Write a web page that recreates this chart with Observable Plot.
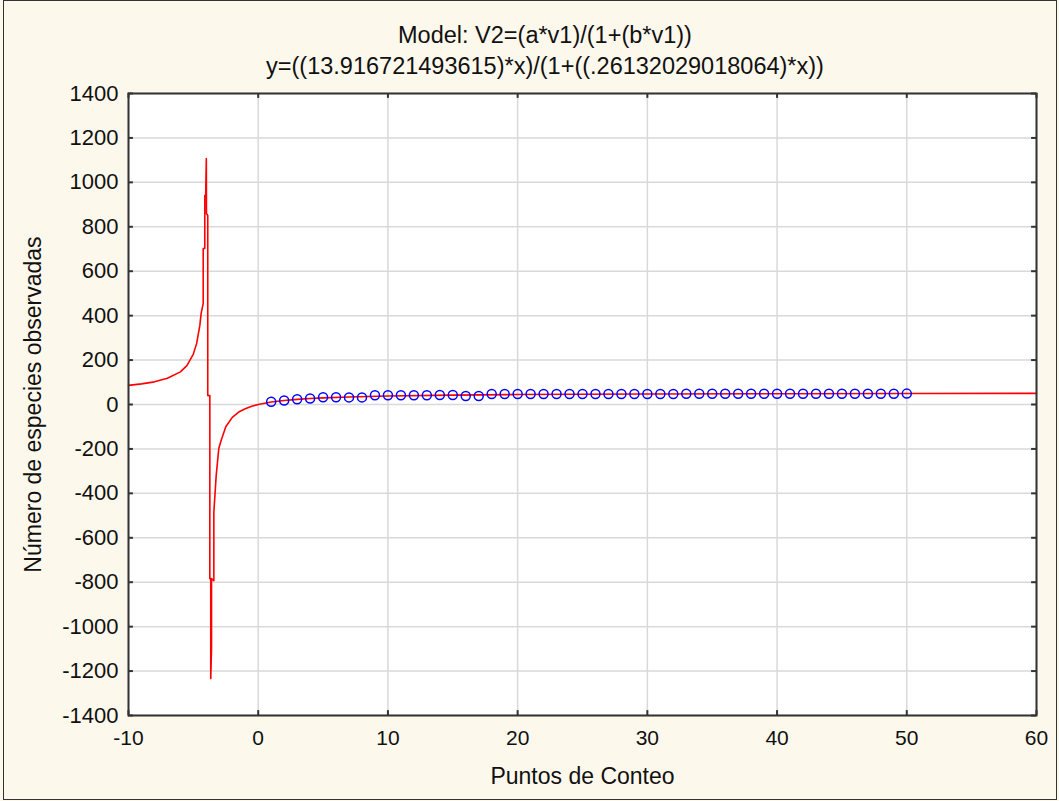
<!DOCTYPE html>
<html>
<head>
<meta charset="utf-8">
<script src="https://cdn.jsdelivr.net/npm/d3@7"></script>
<script src="https://cdn.jsdelivr.net/npm/@observablehq/plot@0.6"></script>
<style>
  html, body { margin: 0; padding: 0; background: #fdf8ec; }
  #wrap { position: relative; width: 1059px; height: 801px; background: #fdf8ec; font-family: "Liberation Sans", Arial, sans-serif; overflow: hidden; }
  #border { position: absolute; left: 3px; top: 0px; width: 1052px; height: 798px; border: 1px solid #333; box-sizing: content-box; pointer-events: none; }
  #title { position: absolute; left: 0; top: 0; width: 1090px; height: 80px; text-align: center; color: #111; font-size: 23.5px; }
  #title div { position: absolute; left: 0; width: 100%; line-height: 28px; }
  #chart { position: absolute; left: 0; top: 80px; }
</style>
</head>
<body>
<div id="wrap">
  <div id="title">
    <div style="top:21px">Model: V2=(a*v1)/(1+(b*v1))</div>
    <div style="top:52px">y=((13.916721493615)*x)/(1+((.26132029018064)*x))</div>
  </div>
  <div id="chart"></div>
  <div id="border"></div>
</div>
<script>
// Observed points
const obsX = [1,2,3,4,5,6,7,8,9,10,11,12,13,14,15,16,17,18,19,20,21,22,23,24,25,26,27,28,29,30,31,32,33,34,35,36,37,38,39,40,41,42,43,44,45,46,47,48,49,50];
const obsY = [12,18,24,27,33,33,32,32,42,42,42,42,42,43,43,38,38,47,47,47,47,47,47,47,47,47,47,47,47,47,47,47,48,48,48,48,48,48,48,48,48,48,48,48,48,48,48,48,48,49];

// Fitted model curve (as drawn)
const curveX = [-10,-9,-8,-7,-6,-5.5,-5,-4.75,-4.5,-4.4,-4.24,-4.24,-4.12,-4.12,-4.05,-4.0,-3.99,-3.89,-3.89,-3.73,-3.73,-3.66,-3.66,-3.6,-3.6,-3.42,-3.42,-3.24,-3.04,-2.86,-2.5,-2,-1.5,-1,-0.5,0,0.5,1,2,3,4,5,7,10,15,20,25,30,40,50,60];
const curveY = [86,93,102,118,147,175,227,274,356,410,455,702,702,941,941,1107,860,851,40,40,-784,-784,-1234,-1099,-784,-793,-485,-320,-198,-162,-100,-58,-34,-19,-8,0,6,11,18,23,27,30,34,38.5,42.4,44.7,46.2,47.2,48.6,49.5,50];

const xTicks = [-10,0,10,20,30,40,50,60];
const yTicks = [-1400,-1200,-1000,-800,-600,-400,-200,0,200,400,600,800,1000,1200,1400];

const curve = curveX.map((x, i) => ({x, y: curveY[i]}));
const obs = obsX.map((x, i) => ({x, y: obsY[i]}));
const fmt = d => String(d);

const chart = Plot.plot({
  width: 1059,
  height: 721,
  marginTop: 13,
  marginLeft: 128,
  marginRight: 23,
  marginBottom: 86,
  style: {background: "transparent", fontFamily: "Liberation Sans, Arial, sans-serif", fontSize: "20px", color: "#111"},
  x: {domain: [-10, 60], ticks: xTicks},
  y: {domain: [-1400, 1400], ticks: yTicks},
  marks: [
    Plot.frame({fill: "white", stroke: null}),
    Plot.gridX(xTicks, {stroke: "#d9d9d9", strokeOpacity: 1, strokeWidth: 1.5}),
    Plot.gridY(yTicks, {stroke: "#d9d9d9", strokeOpacity: 1, strokeWidth: 1.5}),
    Plot.line(curve, {x: "x", y: "y", stroke: "#ff0000", strokeWidth: 1.6}),
    Plot.dot(obs, {x: "x", y: "y", r: 4.5, stroke: "#0000ff", strokeWidth: 1.5, fill: "none"}),
    Plot.ruleX(xTicks, {y1: -1400, y2: -1378, stroke: "#333", strokeWidth: 2}),
    Plot.ruleX(xTicks, {y1: 1400, y2: 1378, stroke: "#333", strokeWidth: 2}),
    Plot.ruleY(yTicks, {x1: -10, x2: -9.62, stroke: "#333", strokeWidth: 2}),
    Plot.ruleY(yTicks, {x1: 60, x2: 59.62, stroke: "#333", strokeWidth: 2}),
    Plot.axisX(xTicks, {tickSize: 0, tickPadding: 15, fontSize: 21, tickFormat: fmt, label: null}),
    Plot.axisY(yTicks, {tickSize: 0, tickPadding: 10, fontSize: 22, tickFormat: fmt, label: null}),
    Plot.text(["Puntos de Conteo"], {frameAnchor: "bottom", dy: 68, fontSize: 23, fill: "#111"}),
    Plot.text(["Número de especies observadas"], {frameAnchor: "left", dx: -95, rotate: -90, textAnchor: "middle", fontSize: 23, fill: "#111"}),
    Plot.frame({stroke: "#333", strokeWidth: 2})
  ]
});
document.getElementById("chart").appendChild(chart);
</script>
</body>
</html>
